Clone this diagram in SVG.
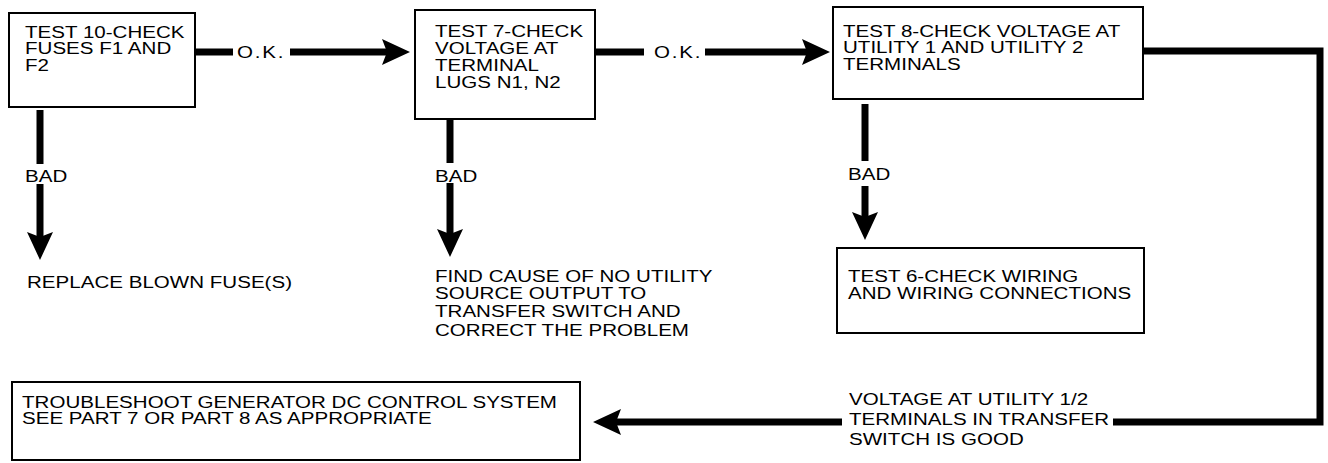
<svg xmlns="http://www.w3.org/2000/svg" width="1328" height="463" viewBox="0 0 1328 463">
<style>
.t{font-family:"Liberation Sans",Arial,sans-serif;font-size:17px;fill:#000}
.box{fill:#fff;stroke:#000;stroke-width:2}
.sh{fill:none;stroke:#000;stroke-width:7;stroke-linejoin:miter}
</style>
<defs>
<marker id="ah" markerUnits="userSpaceOnUse" markerWidth="30" markerHeight="28" refX="8" refY="13" orient="auto" overflow="visible">
<path d="M0,0 L28,13 L0,26 L5,13 Z" fill="#000"/>
</marker>
</defs>
<rect width="1328" height="463" fill="#fff"/>

<g id="connectors">
<line class="sh" x1="195" y1="52" x2="233" y2="52"/>
<line class="sh" x1="290" y1="52" x2="390" y2="52" marker-end="url(#ah)"/>
<line class="sh" x1="595" y1="52" x2="644" y2="52"/>
<line class="sh" x1="705" y1="52" x2="810" y2="52" marker-end="url(#ah)"/>
<line class="sh" x1="40" y1="110" x2="40" y2="164"/>
<line class="sh" x1="40" y1="184" x2="40" y2="240" marker-end="url(#ah)"/>
<line class="sh" x1="450" y1="120" x2="450" y2="163"/>
<line class="sh" x1="450" y1="183" x2="450" y2="237" marker-end="url(#ah)"/>
<line class="sh" x1="865" y1="104" x2="865" y2="161"/>
<line class="sh" x1="865" y1="186" x2="865" y2="220" marker-end="url(#ah)"/>
<path class="sh" d="M1143,51 H1320 V422 H1113"/>
<line class="sh" x1="842" y1="422" x2="613" y2="422" marker-end="url(#ah)"/>
<text class="t" transform="translate(237 58) scale(1.21 1)" letter-spacing="1.5">O.K.</text>
<text class="t" transform="translate(654 58) scale(1.21 1)" letter-spacing="1.5">O.K.</text>
<text class="t" transform="translate(25 182) scale(1.21 1)">BAD</text>
<text class="t" transform="translate(435 182) scale(1.21 1)">BAD</text>
<text class="t" transform="translate(848 180) scale(1.21 1)">BAD</text>
<text class="t" transform="translate(849 405) scale(1.21 1)"><tspan x="0" y="0">VOLTAGE AT UTILITY 1/2</tspan><tspan x="0" y="20">TERMINALS IN TRANSFER</tspan><tspan x="0" y="40">SWITCH IS GOOD</tspan></text>
</g>

<g id="test10">
<rect class="box" x="9" y="13" width="186" height="94"/>
<text class="t" transform="translate(25 38) scale(1.21 1)"><tspan x="0" y="0">TEST 10-CHECK</tspan><tspan x="0" y="16.5">FUSES F1 AND</tspan><tspan x="0" y="33">F2</tspan></text>
</g>

<g id="test7">
<rect class="box" x="415" y="10" width="180" height="109"/>
<text class="t" transform="translate(435 37) scale(1.21 1)"><tspan x="0" y="0">TEST 7-CHECK</tspan><tspan x="0" y="17">VOLTAGE AT</tspan><tspan x="0" y="34">TERMINAL</tspan><tspan x="0" y="51">LUGS N1, N2</tspan></text>
</g>

<g id="test8">
<rect class="box" x="833" y="7" width="310" height="92"/>
<text class="t" transform="translate(843 37) scale(1.21 1)"><tspan x="0" y="0">TEST 8-CHECK VOLTAGE AT</tspan><tspan x="0" y="16.5">UTILITY 1 AND UTILITY 2</tspan><tspan x="0" y="33">TERMINALS</tspan></text>
</g>

<g id="replace">
<text class="t" transform="translate(27 288) scale(1.21 1)">REPLACE BLOWN FUSE(S)</text>
</g>

<g id="findcause">
<text class="t" transform="translate(435 282) scale(1.21 1)"><tspan x="0" y="0">FIND CAUSE OF NO UTILITY</tspan><tspan x="0" y="17">SOURCE OUTPUT TO</tspan><tspan x="0" y="35">TRANSFER SWITCH AND</tspan><tspan x="0" y="54">CORRECT THE PROBLEM</tspan></text>
</g>

<g id="test6">
<rect class="box" x="837" y="248" width="307" height="85"/>
<text class="t" transform="translate(848 282) scale(1.21 1)"><tspan x="0" y="0">TEST 6-CHECK WIRING</tspan><tspan x="0" y="17">AND WIRING CONNECTIONS</tspan></text>
</g>

<g id="troubleshoot">
<rect class="box" x="12" y="382" width="568" height="78"/>
<text class="t" transform="translate(22 408) scale(1.21 1)"><tspan x="0" y="0">TROUBLESHOOT GENERATOR DC CONTROL SYSTEM</tspan><tspan x="0" y="16.5">SEE PART 7 OR PART 8 AS APPROPRIATE</tspan></text>
</g>
</svg>
